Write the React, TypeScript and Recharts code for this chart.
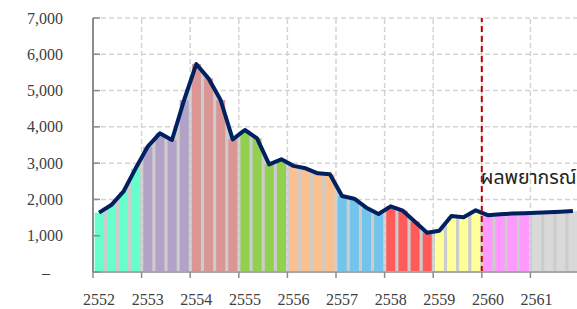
import React from 'react';
import {
  ComposedChart,
  Bar,
  Line,
  Area,
  XAxis,
  YAxis,
  CartesianGrid,
  ReferenceLine,
  Cell,
} from 'recharts';

const years = ['2552', '2553', '2554', '2555', '2556', '2557', '2558', '2559', '2560', '2561'];
const values2552 = [1635, 1845, 2213, 2850];
const values2553 = [3453, 3822, 3637, 4740];
const values2554 = [5731, 5337, 4740, 3656];
const values2555 = [3913, 3683, 2967, 3105];
const values2556 = [2925, 2857, 2720, 2692];
const values2557 = [2094, 2020, 1773, 1598];
const values2558 = [1810, 1690, 1387, 1084];
const values2559 = [1139, 1543, 1506, 1700];
const values2560 = [1565, 1590, 1610, 1620];
const values2561 = [1630, 1645, 1660, 1680];
const valuesByYear = [
  values2552, values2553, values2554, values2555, values2556,
  values2557, values2558, values2559, values2560, values2561,
];
const yearColors = [
  '#66ffcc', '#b3a2c7', '#d99694', '#92d050', '#fac090',
  '#72c4ea', '#ff5b5b', '#ffff99', '#ff99ff', '#d9d9d9',
];
const yTicks = [0, 1000, 2000, 3000, 4000, 5000, 6000, 7000];
const forecastYear = '2560';
const forecastLabel = 'ผลพยากรณ์';

type Row = { key: string; year: string; q: number; value: number; color: string };
const data: Row[] = years.flatMap((y, yi) =>
  valuesByYear[yi].map((v, qi) => ({
    key: `${y}-${qi + 1}`,
    year: y,
    q: qi,
    value: v,
    color: yearColors[yi],
  }))
);

const CHART_W = 580;
const CHART_H = 309;
const MARGIN = { top: 18, right: 1, left: 0, bottom: 0 };
const Y_AXIS_W = 93;
const PLOT_W = CHART_W - Y_AXIS_W - MARGIN.left - MARGIN.right;
const SLOT = PLOT_W / data.length;
const TICK_MARGIN = 30;
const TEXT_COLOR = '#404040';
const AXIS_COLOR = '#8c8c8c';
const SERIF = '"Liberation Serif", "DejaVu Serif", "Times New Roman", serif';

const XTick = (props: any) => {
  const { x, y, payload } = props;
  const parts = String(payload.value).split('-');
  if (parts[1] !== '1') return <g />;
  const bx = x - SLOT / 2;
  return (
    <g>
      <line x1={bx} x2={bx} y1={y} y2={y + 6} stroke={AXIS_COLOR} strokeWidth={1.5} />
      <text
        x={x}
        y={y + 33}
        textAnchor="middle"
        style={{ fontFamily: SERIF, fontSize: 16, fill: TEXT_COLOR }}
      >
        {parts[0]}
      </text>
    </g>
  );
};

const YTick = (props: any) => {
  const { x, y, payload } = props;
  const axisX = x + TICK_MARGIN;
  const v = payload.value as number;
  const label = v === 0 ? '–' : v.toLocaleString('en-US');
  return (
    <g>
      <line x1={axisX} x2={axisX + 7} y1={y} y2={y} stroke={AXIS_COLOR} strokeWidth={1.5} />
      <text
        x={v === 0 ? x - 13 : x}
        y={y}
        textAnchor="end"
        dominantBaseline="central"
        style={{ fontFamily: SERIF, fontSize: 16, fill: TEXT_COLOR }}
      >
        {label}
      </text>
    </g>
  );
};

const ForecastLabel = (props: any) => {
  const vb = props.viewBox || {};
  return (
    <text
      x={(vb.x ?? 0) - 1}
      y={(vb.y ?? 0) + 166}
      style={{
        fontFamily: '"Noto Sans Thai", Tahoma, "DejaVu Sans", sans-serif',
        fontSize: 19.5,
        fill: '#222',
      }}
    >
      {forecastLabel}
    </text>
  );
};

export default function App() {
  return (
    <div style={{ position: 'absolute', left: 0, top: 0, width: 577, height: 309, overflow: 'hidden', background: '#fff' }}>
      <ComposedChart
        width={CHART_W}
        height={CHART_H}
        data={data}
        margin={MARGIN}
        barCategoryGap="14%"
      >
        <CartesianGrid vertical={false} stroke="#d4d4d4" strokeDasharray="5 3" strokeWidth={1.5} />
        {years.slice(1).map((y) => (
          <ReferenceLine
            key={y}
            x={`${y}-1`}
            position="start"
            stroke="#d4d4d4"
            strokeDasharray="5 3"
            strokeWidth={1.5}
          />
        ))}
        <Area
          dataKey="value"
          type="linear"
          fill="#cccccc"
          fillOpacity={1}
          stroke="none"
          isAnimationActive={false}
        />
        <Bar dataKey="value" isAnimationActive={false}>
          {data.map((d) => (
            <Cell key={d.key} fill={d.color} />
          ))}
        </Bar>
        <XAxis
          dataKey="key"
          interval={0}
          tickLine={false}
          tickSize={0}
          tickMargin={0}
          height={CHART_H - MARGIN.top - 254 - MARGIN.bottom}
          axisLine={{ stroke: '#a6a6a6', strokeWidth: 2 }}
          tick={<XTick />}
        />
        <YAxis
          width={Y_AXIS_W}
          domain={[0, 7000]}
          ticks={yTicks}
          interval={0}
          tickLine={false}
          tickSize={0}
          tickMargin={TICK_MARGIN}
          axisLine={{ stroke: AXIS_COLOR, strokeWidth: 2 }}
          tick={<YTick />}
        />
        <Line
          dataKey="value"
          type="linear"
          stroke="#002060"
          strokeWidth={4}
          strokeLinejoin="round"
          dot={false}
          activeDot={false}
          isAnimationActive={false}
        />
        <ReferenceLine
          x={`${forecastYear}-1`}
          position="start"
          stroke="#c00000"
          strokeWidth={2}
          strokeDasharray="6 4"
          label={<ForecastLabel />}
        />
      </ComposedChart>
    </div>
  );
}
